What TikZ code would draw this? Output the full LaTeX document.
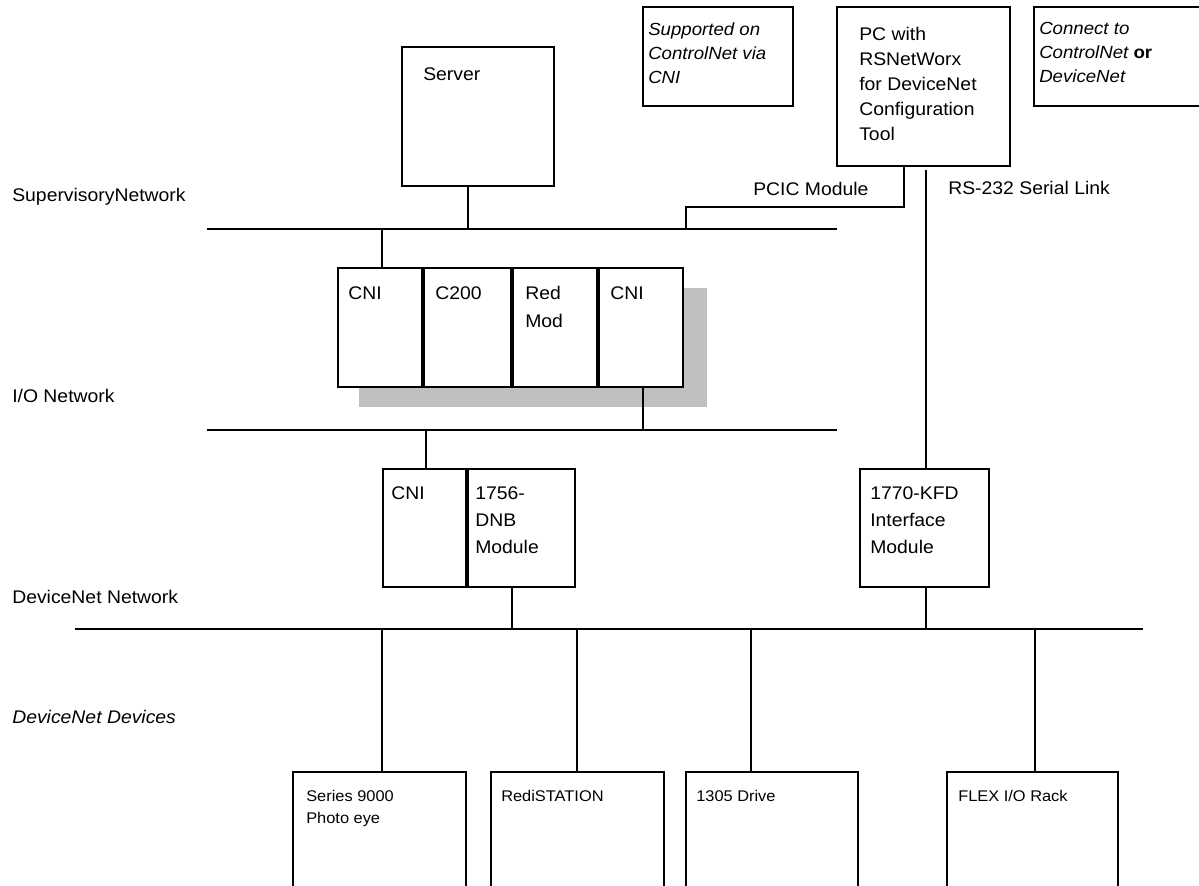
\documentclass[tikz,border=0pt]{standalone}
\usepackage{fontspec}
\setmainfont{Liberation Sans}[FakeStretch=1.06]
\usepackage{tikz}

\newcommand{\pxu}{0.025cm}
\tikzset{
  box/.style 2 args={draw, line width=2*\pxu, minimum width=#1*\pxu, minimum height=#2*\pxu,
    anchor=north west, inner sep=0pt, outer sep=0pt},
  txt/.style={anchor=north west, inner sep=0pt, align=left},
  lbl/.style={anchor=base west, inner sep=0pt},
  bus/.style={line width=2*\pxu},
  divider/.style={line width=3.4*\pxu},
}

\begin{document}
\begin{tikzpicture}[x=\pxu, y=-\pxu, font=\fontsize{13}{15}\selectfont]
    \useasboundingbox (0,0) rectangle (1199,886);
    \clip (0,0) rectangle (1199,886);
    % network lines
    \coordinate (supL) at (207,229);
    \coordinate (supR) at (837,229);
    \coordinate (ioL) at (207,430);
    \coordinate (ioR) at (837,430);
    \coordinate (dnL) at (75,629);
    \coordinate (dnR) at (1143,629);
    \coordinate (tap) at (686,229);
    \draw[bus] (supL) -- (supR);
    \draw[bus] (ioL) -- (ioR);
    \draw[bus] (dnL) -- (dnR);
    \node[lbl] (supnet) at (12,202) {SupervisoryNetwork};
    \node[lbl] (ionet) at (12,402) {I/O Network};
    \node[lbl] (dnnet) at (12,603) {DeviceNet Network};
    \node[lbl, font=\fontsize{13}{15}\selectfont\itshape] (dndev) at (12,723) {DeviceNet Devices};

    % top row
    \node[box={152}{139}] (srv) at (402,47) {};
    \node[lbl] (srvtxt) at (423,81) {Server};
    \node[box={150}{99}] (sup) at (643,7) {};
    \node[txt, font=\fontsize{12.5}{17.2}\selectfont\itshape] (suptxt) at (648,22)
      {Supported on\\ControlNet via\\CNI};
    \node[box={173}{159}] (pc) at (837,7) {};
    \node[txt, font=\fontsize{13}{17.8}\selectfont] (pctxt) at (859,27)
      {PC with\\RSNetWorx\\for DeviceNet\\Configuration\\Tool};
    \node[box={180}{99}] (con) at (1034,7) {};
    \node[txt, font=\fontsize{12.5}{17.2}\selectfont\itshape] (contxt) at (1039,22)
      {Connect to\\ControlNet \textbf{\upshape or}\\DeviceNet};
    \node[lbl] (pcic) at (753,196) {PCIC Module};
    \node[lbl] (rs) at (948,195) {RS-232 Serial Link};

    % chassis
    \fill[black!25] (359,288) rectangle (707,407);
    \node[box={85}{119}, fill=white] (cni1) at (338,268) {};
    \node[box={89}{119}, fill=white] (c200) at (423,268) {};
    \node[box={86}{119}, fill=white] (red) at (512,268) {};
    \node[box={85}{119}, fill=white] (cni2) at (598,268) {};
    \draw[divider] (c200.north west) -- (c200.south west);
    \draw[divider] (red.north west) -- (red.south west);
    \draw[divider] (cni2.north west) -- (cni2.south west);
    \node[txt] (cni1txt) at (348,286) {CNI};
    \node[txt] (c200txt) at (435,286) {C200};
    \node[txt, font=\fontsize{13}{19.6}\selectfont] (redtxt) at (525,286) {Red\\Mod};
    \node[txt] (cni2txt) at (610,286) {CNI};

    \node[box={84}{118}] (cni3) at (383,469) {};
    \node[box={108}{118}] (dnb) at (467,469) {};
    \draw[divider] (dnb.north west) -- (dnb.south west);
    \node[txt] (cni3txt) at (391,486) {CNI};
    \node[txt, font=\fontsize{13}{19.2}\selectfont] (dnbtxt) at (475,486) {1756-\\DNB\\Module};
    \node[box={129}{118}] (kfd) at (860,469) {};
    \node[txt, font=\fontsize{13}{19.2}\selectfont] (kfdtxt) at (870,486)
      {1770-KFD\\Interface\\Module};

    % devices
    \node[box={173}{140}] (ser) at (293,772) {};
    \node[box={173}{140}] (redi) at (491,772) {};
    \node[box={172}{140}] (drv) at (686,772) {};
    \node[box={171}{140}] (flex) at (947,772) {};
    \node[txt, font=\fontsize{11}{15.6}\selectfont] (sertxt) at (306,790) {Series 9000\\Photo eye};
    \node[txt, font=\fontsize{11}{15.6}\selectfont] (reditxt) at (501,790) {RediSTATION};
    \node[txt, font=\fontsize{11}{15.6}\selectfont] (drvtxt) at (696,790) {1305 Drive};
    \node[txt, font=\fontsize{11}{15.6}\selectfont] (flextxt) at (958,790) {FLEX I/O Rack};

    % drops
    \draw[bus] ([xshift=66*\pxu]srv.south west) coordinate (s1) -- (s1 |- supL);
    \draw[bus] ([xshift=44*\pxu]cni1.north west) coordinate (s2) -- (s2 |- supL);
    \draw[bus] ([xshift=67*\pxu]pc.south west) -- ++(0,41) -| (tap);
    \draw[bus] ([xshift=66*\pxu]kfd.north west) coordinate (s3)
      -- ([yshift=-4*\pxu]s3 |- pc.south);
    \draw[bus] ([xshift=45*\pxu]cni2.south west) coordinate (s4) -- (s4 |- ioL);
    \draw[bus] ([xshift=43*\pxu]cni3.north west) coordinate (s5) -- (s5 |- ioL);
    \draw[bus] ([xshift=45*\pxu]dnb.south west) coordinate (s6) -- (s6 |- dnL);
    \draw[bus] ([xshift=66*\pxu]kfd.south west) coordinate (s7) -- (s7 |- dnL);
    \draw[bus] ([xshift=89*\pxu]ser.north west) coordinate (s8) -- (s8 |- dnL);
    \draw[bus] ([xshift=86*\pxu]redi.north west) coordinate (s9) -- (s9 |- dnL);
    \draw[bus] ([xshift=65*\pxu]drv.north west) coordinate (s10) -- (s10 |- dnL);
    \draw[bus] ([xshift=88*\pxu]flex.north west) coordinate (s11) -- (s11 |- dnL);
  \end{tikzpicture}
\end{document}
